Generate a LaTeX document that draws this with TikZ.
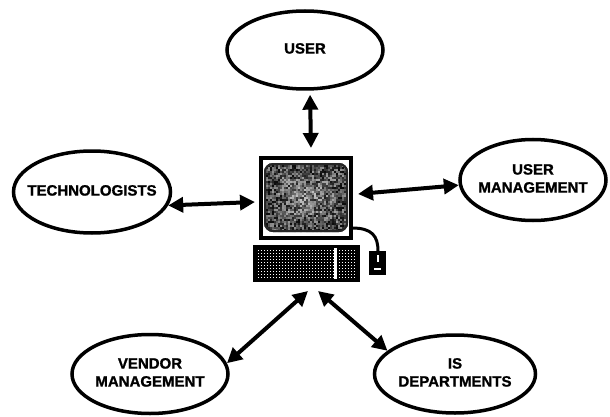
\documentclass[tikz,border=0pt]{standalone}
\usepackage{fontspec}
\setmainfont{Liberation Sans}[BoldFeatures={FakeBold=1.2}]
\usetikzlibrary{shapes.geometric,arrows.meta}
% zero-width centred label so the ellipse keeps its own size
\newcommand\partytext[1]{\makebox[0pt]{\begin{tabular}{@{}c@{}}#1\end{tabular}}}
\begin{document}
\begin{tikzpicture}[x=1pt,y=-1pt,
  party/.style={draw, line width=3.5pt, ellipse, inner sep=0pt,
    font=\fontsize{15}{18}\selectfont\bfseries},
  link/.style={line width=4pt,
    {Triangle[length=15pt,width=15pt]}-{Triangle[length=15pt,width=15pt]}},
]
\fill[white] (0,0) rectangle (610,417);
\useasboundingbox (0,0) rectangle (610,417);

% the parties
\node[party, minimum width=156pt, minimum height=78pt] (user) at (305,50) {\partytext{USER}};
\node[party, minimum width=157pt, minimum height=82pt] (tech) at (92,192) {\partytext{TECHNOLOGISTS}};
\node[party, minimum width=146pt, minimum height=81pt] (um) at (533,180) {\partytext{USER\\MANAGEMENT}};
\node[party, minimum width=156pt, minimum height=79pt] (vm) at (150,374) {\partytext{VENDOR\\MANAGEMENT}};
\node[party, minimum width=161pt, minimum height=78pt] (isd) at (455,374) {\partytext{IS\\DEPARTMENTS}};

% the workstation: monitor frame
\draw[line width=4pt] (261,158) rectangle (351,238);
% screen with a mottled picture
\begin{scope}
  \clip[rounded corners=9pt] (264,163) rectangle (348,232);
  \fill[black!60] (264,163) rectangle (348,232);
  \pgfmathsetseed{42}
  \foreach \i in {0,...,41}{
    \foreach \j in {0,...,34}{
      \pgfmathsetmacro\tone{int(min(95,20+60*rnd+25*max(abs(\i-21)/21,abs(\j-17)/17)))}
      \fill[black!\tone] (264+2*\i,163+2*\j) rectangle ++(2,2);
    }
  }
  \draw[black!85, line width=4pt, rounded corners=9pt] (264,163) rectangle (348,232);
\end{scope}
% system unit with its grille
\fill (253,245) rectangle (360,282);
\foreach \i in {0,...,32}{
  \foreach \j in {0,...,9}{
    \fill[white] (257.5+3*\i,249.5+3*\j) rectangle ++(1.5,1.5);
  }
}
\fill[white] (334,248) rectangle (336.5,279);
% mouse and its cable
\draw[line width=3pt] (352,228) .. controls (372,228) and (378,236) .. (378,251);
\fill (369,251) rectangle (386,275);
\fill[white] (376.5,255) rectangle (378.5,262);
\fill[white] (374,268) rectangle (381,270);

% link ends on the workstation
\coordinate (pcT) at (311,148);
\coordinate (pcL) at (255,202);
\coordinate (pcR) at (358,194);
\coordinate (pcBL) at (308,291);
\coordinate (pcBR) at (318,291);

% links
\draw[link, shorten <=4pt] (user.-83) -- (pcT);
\draw[link] (tech.-10) -- (pcL);
\draw[link] (pcR) -- (um.184);
\draw[link] (pcBL) -- (vm.8);
\draw[link] (pcBR) -- (isd.161);
\end{tikzpicture}
\end{document}
